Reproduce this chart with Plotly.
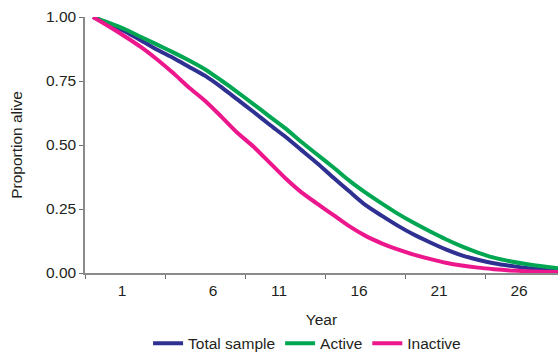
import plotly.graph_objects as go

years = list(range(1, 31))
total_sample = [1.000, 0.974, 0.943, 0.908, 0.872, 0.840, 0.805, 0.770, 0.726, 0.678,
                0.630, 0.580, 0.532, 0.480, 0.428, 0.372, 0.318, 0.265, 0.224, 0.185,
                0.150, 0.120, 0.092, 0.069, 0.052, 0.038, 0.028, 0.020, 0.014, 0.010]
active = [1.000, 0.977, 0.952, 0.922, 0.892, 0.862, 0.830, 0.795, 0.752, 0.707,
          0.660, 0.612, 0.565, 0.512, 0.462, 0.412, 0.360, 0.314, 0.272, 0.232,
          0.196, 0.163, 0.132, 0.104, 0.080, 0.060, 0.046, 0.035, 0.026, 0.019]
inactive = [1.000, 0.963, 0.924, 0.882, 0.834, 0.781, 0.724, 0.672, 0.611, 0.548,
            0.494, 0.432, 0.370, 0.315, 0.270, 0.226, 0.182, 0.145, 0.116, 0.092,
            0.072, 0.055, 0.040, 0.029, 0.021, 0.015, 0.010, 0.007, 0.005, 0.004]

x_tick_text = ["1", "6", "11", "16", "21", "26"]
x_tick_label_pos = [2.81, 8.49, 12.6, 17.59, 22.58, 27.57]
x_tick_marks = [0.5, 5.5, 10.5, 15.5, 20.5, 25.5]
y_ticks = [0, 0.25, 0.5, 0.75, 1.0]
y_tick_text = ["0.00", "0.25", "0.50", "0.75", "1.00"]

FONT = "Liberation Sans, Arial, sans-serif"
fs = 15.5

fig = go.Figure()
series = [("Total sample", total_sample, "#2E3192"),
          ("Active", active, "#00A651"),
          ("Inactive", inactive, "#EC178C")]
for name, vals, col in series:
    fig.add_trace(go.Scatter(x=years, y=vals, name=name, mode="lines",
                             line=dict(color=col, width=4, shape="spline", smoothing=0.6)))

fig.update_layout(
    width=558, height=354,
    margin=dict(l=85, r=0, t=17, b=81, autoexpand=False),
    plot_bgcolor="white", paper_bgcolor="white",
    font=dict(family=FONT, size=fs, color="#231F20"),
    showlegend=True,
    legend=dict(orientation="h", x=0.4695, xanchor="center", y=-0.21, yanchor="top",
                font=dict(size=fs), itemwidth=30, tracegroupgap=0),
    xaxis=dict(range=[0.5, 30.0], tickmode="array", tickvals=x_tick_marks,
               showticklabels=False, ticks="outside", ticklen=4, tickcolor="#6d6d6d",
               showline=True, linecolor="#8a8a8a", linewidth=1.5, showgrid=False,
               zeroline=False, automargin=False,
               title=dict(text="Year", font=dict(size=fs), standoff=36)),
    xaxis2=dict(range=[0.5, 30.0], overlaying="x", anchor="y", side="bottom",
                tickmode="array", tickvals=x_tick_label_pos, ticktext=x_tick_text,
                ticks="", showline=False, showgrid=False, zeroline=False,
                ticklabelstandoff=6, automargin=False),
    yaxis=dict(range=[0, 1.0], tickmode="array", tickvals=y_ticks, ticktext=y_tick_text,
               ticks="outside", ticklen=4, tickcolor="#6d6d6d",
               showline=True, linecolor="#8a8a8a", linewidth=1.5, showgrid=False,
               zeroline=False, automargin=False,
               title=dict(text="Proportion alive", font=dict(size=fs), standoff=20)),
)
# invisible trace to activate xaxis2
fig.add_trace(go.Scatter(x=[years[0]], y=[total_sample[0]], xaxis="x2", mode="markers",
                         marker=dict(opacity=0), showlegend=False, hoverinfo="skip"))

fig.write_html("out.html", config={"displayModeBar": False},
               post_script="document.body.style.margin='0';")
